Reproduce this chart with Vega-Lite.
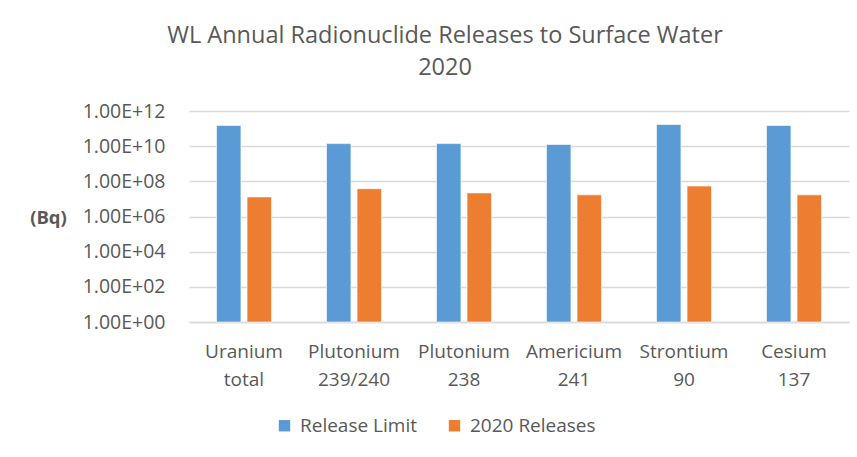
{
  "$schema": "https://vega.github.io/schema/vega-lite/v6.json",
  "width": 660,
  "height": 211,
  "autosize": "none",
  "padding": {"left": 189, "top": 111, "right": 8, "bottom": 135},
  "background": "white",
  "title": {
    "text": ["WL Annual Radionuclide Releases to Surface Water", "2020"],
    "font": "Open Sans",
    "fontSize": 23.5,
    "fontWeight": "normal",
    "color": "#595959",
    "anchor": "middle",
    "dx": -74,
    "lineHeight": 32,
    "offset": 22
  },
  "config": {
    "view": {"stroke": null},
    "font": "Open Sans"
  },
  "data": {
    "values": [
      {"nuclide": "Uranium total", "series": "Release Limit", "value": 1.5e11},
      {"nuclide": "Uranium total", "series": "2020 Releases", "value": 1.3e7},
      {"nuclide": "Plutonium 239/240", "series": "Release Limit", "value": 1.4e10},
      {"nuclide": "Plutonium 239/240", "series": "2020 Releases", "value": 3.8e7},
      {"nuclide": "Plutonium 238", "series": "Release Limit", "value": 1.4e10},
      {"nuclide": "Plutonium 238", "series": "2020 Releases", "value": 2.2e7},
      {"nuclide": "Americium 241", "series": "Release Limit", "value": 1.25e10},
      {"nuclide": "Americium 241", "series": "2020 Releases", "value": 1.7e7},
      {"nuclide": "Strontium 90", "series": "Release Limit", "value": 1.7e11},
      {"nuclide": "Strontium 90", "series": "2020 Releases", "value": 5.4e7},
      {"nuclide": "Cesium 137", "series": "Release Limit", "value": 1.5e11},
      {"nuclide": "Cesium 137", "series": "2020 Releases", "value": 1.7e7}
    ]
  },
  "mark": {"type": "bar", "stroke": "white", "strokeWidth": 1, "strokeOpacity": 0.6},
  "encoding": {
    "x": {
      "field": "nuclide",
      "type": "nominal",
      "sort": null,
      "scale": {"paddingInner": 0.5, "paddingOuter": 0.25},
      "axis": {
        "title": null,
        "labelAngle": 0,
        "labelExpr": "split(datum.label, ' ')",
        "labelFont": "Open Sans",
        "labelFontSize": 19,
        "labelColor": "#595959",
        "labelLineHeight": 28,
        "labelPadding": 20,
        "ticks": false,
        "domain": true,
        "domainColor": "#d9d9d9",
        "domainWidth": 1.5
      }
    },
    "xOffset": {
      "field": "series",
      "type": "nominal",
      "sort": ["Release Limit", "2020 Releases"],
      "scale": {"paddingInner": 0.2}
    },
    "y": {
      "field": "value",
      "type": "quantitative",
      "stack": null,
      "scale": {"type": "log", "domain": [1, 1e12], "nice": false},
      "axis": {
        "values": [1, 100, 10000, 1000000, 100000000, 10000000000, 1000000000000],
        "labelExpr": "'1.00E+' + (round(log(datum.value)/LN10) < 10 ? '0' : '') + round(log(datum.value)/LN10)",
        "labelFont": "Open Sans",
        "labelFontSize": 19.5,
        "labelColor": "#595959",
        "labelPadding": 24,
        "ticks": false,
        "domain": false,
        "grid": true,
        "gridColor": "#d9d9d9",
        "gridWidth": 1.5,
        "title": "(Bq)",
        "titleAngle": 0,
        "titleFont": "Open Sans",
        "titleFontSize": 18.5,
        "titleFontWeight": "bold",
        "titleColor": "#595959",
        "titleX": -141,
        "titleY": 106,
        "titleAlign": "center",
        "titleBaseline": "middle"
      }
    },
    "color": {
      "field": "series",
      "type": "nominal",
      "sort": ["Release Limit", "2020 Releases"],
      "scale": {"domain": ["Release Limit", "2020 Releases"], "range": ["#5B9BD5", "#ED7D31"]},
      "legend": {
        "title": null,
        "orient": "none",
        "direction": "horizontal",
        "legendX": 86,
        "legendY": 305,
        "symbolType": "square",
        "symbolSize": 130,
        "symbolStrokeWidth": 0,
        "labelFont": "Open Sans",
        "labelFontSize": 19,
        "labelColor": "#595959",
        "columnPadding": 28,
        "labelOffset": 6
      }
    }
  }
}
